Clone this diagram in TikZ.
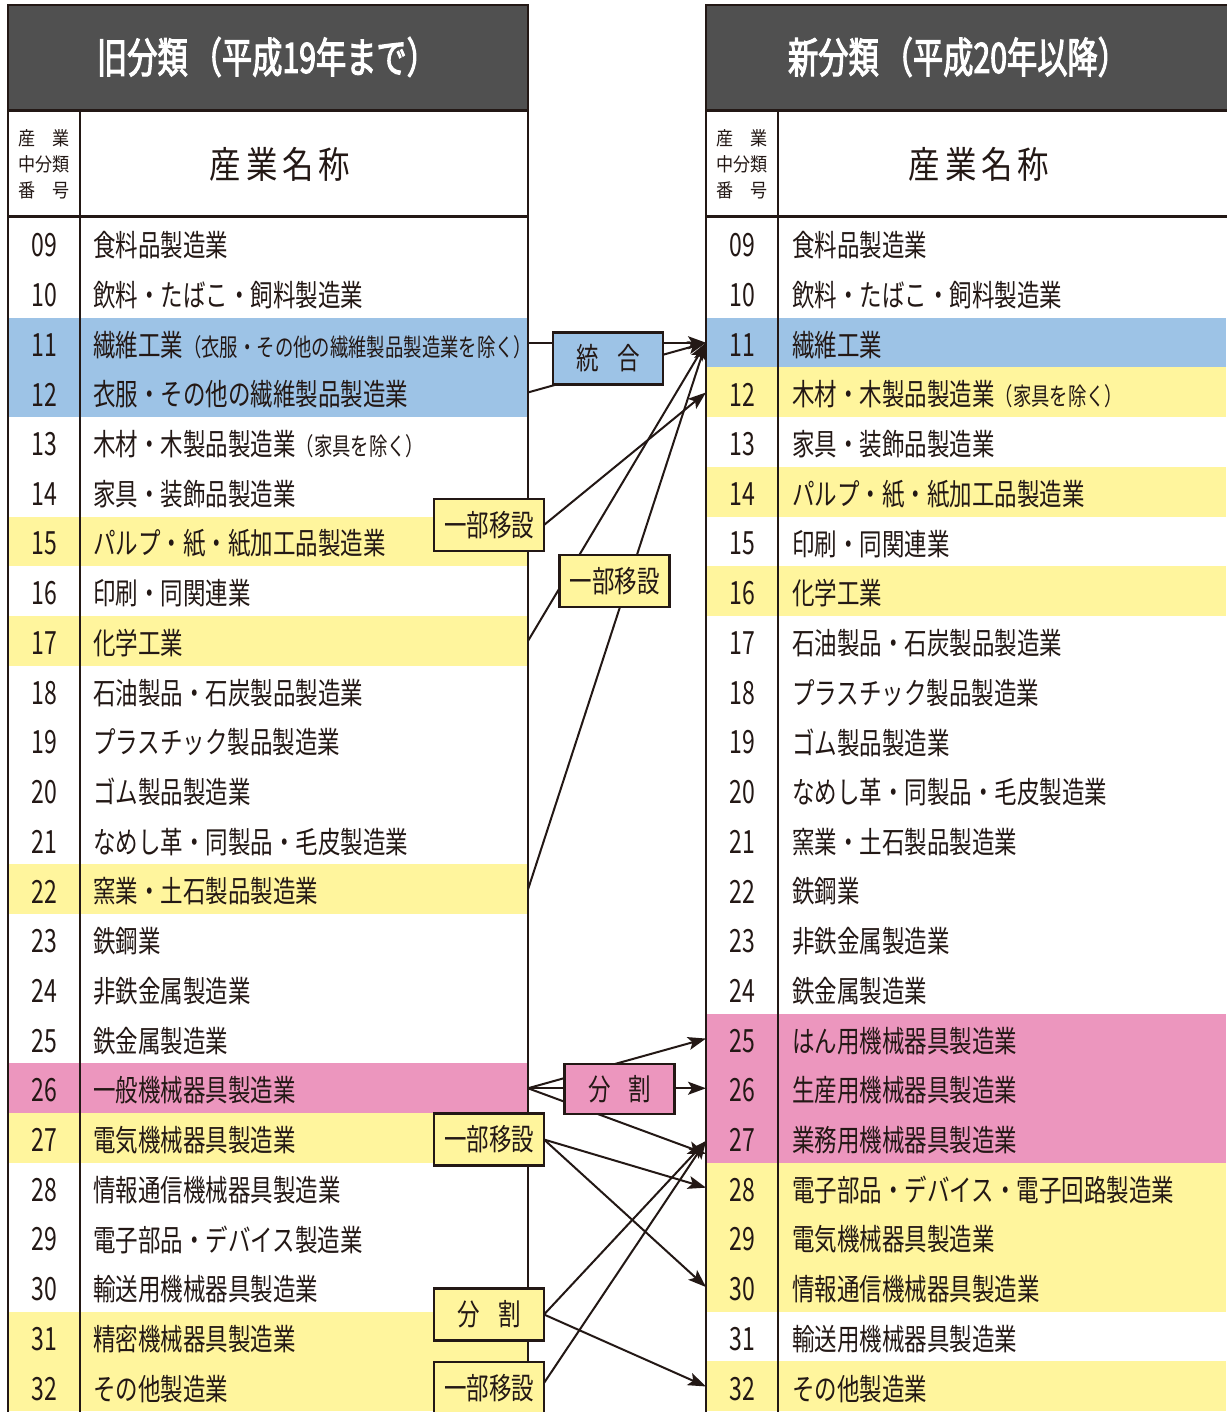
\documentclass[tikz,border=0pt]{standalone}
\usepackage{fontspec}
\setmainfont{Noto Sans CJK JP}
\newfontfamily\condf{Noto Sans CJK JP}[FakeStretch=0.75]
\newfontfamily\numff{Noto Sans CJK JP}[FakeStretch=0.72]
\newfontfamily\subf{Noto Sans CJK JP}[FakeStretch=0.85]
\newfontfamily\tinyf{Noto Sans CJK JP}[FakeStretch=0.9]
\newfontfamily\headf{Noto Sans CJK JP}[FakeStretch=0.72,FakeBold=2.5]
\usetikzlibrary{arrows.meta}
\definecolor{ink}{HTML}{231815}
\definecolor{hdr}{HTML}{505050}
\definecolor{cblue}{HTML}{9DC3E6}
\definecolor{cyel}{HTML}{FFF59D}
\definecolor{cpink}{HTML}{EC96BE}
\newcommand{\rowfont}{\condf\fontsize{30}{36}\selectfont}
\newcommand{\smfont}{\condf\fontsize{24.5}{28}\selectfont}
\newcommand{\numfont}{\numff\fontsize{32}{36}\selectfont}
\newcommand{\sm}[1]{{\smfont #1}}
\pgfdeclarelayer{top}
\pgfsetlayers{main,top}
\begin{document}
\begin{tikzpicture}[x=1pt,y=-1pt,
  band/.style={draw=none,minimum width=520pt,minimum height=50pt,inner sep=0pt,outer sep=0pt},
  rowtxt/.style={anchor=west,inner sep=0pt,font=\rowfont,text=ink},
  numtxt/.style={inner sep=0pt,font=\numfont,text=ink},
  tline/.style={line width=2pt,draw=ink},
  hline/.style={line width=3pt,draw=ink},
  conn/.style={line width=2pt,draw=ink,-{Stealth[length=18pt,width=13pt,inset=4pt]}},
  lbl/.style={draw=ink,line width=2.5pt,minimum width=110pt,minimum height=52pt,inner sep=0pt,outer sep=0pt,font=\rowfont,text=ink},
  headtxt/.style={font=\headf\fontsize{42}{44}\selectfont,text=white,inner sep=0pt},
  subtxt/.style={font=\subf\fontsize{37}{40}\selectfont,text=ink,inner sep=0pt},
  tinytxt/.style={font=\tinyf\fontsize{19}{26}\selectfont,text=ink,align=center,inner sep=0pt}
]
\useasboundingbox (0,0) rectangle (1226,1412);
\fill[white] (0,0) rectangle (1226,1412);

% ---------- old table rows ----------
\foreach \i/\num/\name/\col in {
 0/09/食料品製造業/white,
 1/10/飲料・たばこ・飼料製造業/white,
 2/11/{繊維工業\sm{（衣服・その他の繊維製品製造業を除く）}}/cblue,
 3/12/衣服・その他の繊維製品製造業/cblue,
 4/13/{木材・木製品製造業\sm{（家具を除く）}}/white,
 5/14/家具・装飾品製造業/white,
 6/15/パルプ・紙・紙加工品製造業/cyel,
 7/16/印刷・同関連業/white,
 8/17/化学工業/cyel,
 9/18/石油製品・石炭製品製造業/white,
 10/19/プラスチック製品製造業/white,
 11/20/ゴム製品製造業/white,
 12/21/なめし革・同製品・毛皮製造業/white,
 13/22/窯業・土石製品製造業/cyel,
 14/23/鉄鋼業/white,
 15/24/非鉄金属製造業/white,
 16/25/鉄金属製造業/white,
 17/26/一般機械器具製造業/cpink,
 18/27/電気機械器具製造業/cyel,
 19/28/情報通信機械器具製造業/white,
 20/29/電子部品・デバイス製造業/white,
 21/30/輸送用機械器具製造業/white,
 22/31/精密機械器具製造業/cyel,
 23/32/その他製造業/cyel}{
  \node[band,fill=\col] (o\num) at (268,{243.35+49.7*\i}) {};
  \node[numtxt] (on\num) at (44,{245.5+49.7*\i}) {\num};
  \node[rowtxt] (ot\num) at (93,{245.5+49.7*\i}) {\name};
}

% ---------- new table rows ----------
\foreach \i/\num/\name/\col in {
 0/09/食料品製造業/white,
 1/10/飲料・たばこ・飼料製造業/white,
 2/11/繊維工業/cblue,
 3/12/{木材・木製品製造業\sm{（家具を除く）}}/cyel,
 4/13/家具・装飾品製造業/white,
 5/14/パルプ・紙・紙加工品製造業/cyel,
 6/15/印刷・同関連業/white,
 7/16/化学工業/cyel,
 8/17/石油製品・石炭製品製造業/white,
 9/18/プラスチック製品製造業/white,
 10/19/ゴム製品製造業/white,
 11/20/なめし革・同製品・毛皮製造業/white,
 12/21/窯業・土石製品製造業/white,
 13/22/鉄鋼業/white,
 14/23/非鉄金属製造業/white,
 15/24/鉄金属製造業/white,
 16/25/はん用機械器具製造業/cpink,
 17/26/生産用機械器具製造業/cpink,
 18/27/業務用機械器具製造業/cpink,
 19/28/電子部品・デバイス・電子回路製造業/cyel,
 20/29/電気機械器具製造業/cyel,
 21/30/情報通信機械器具製造業/cyel,
 22/31/輸送用機械器具製造業/white,
 23/32/その他製造業/cyel}{
  \node[band,fill=\col] (n\num) at (966,{243.35+49.7*\i}) {};
  \node[numtxt] (nn\num) at (742,{245.5+49.7*\i}) {\num};
  \node[rowtxt] (nt\num) at (792,{245.5+49.7*\i}) {\name};
}

% ---------- old table frame ----------
\fill[hdr] (8,5) rectangle (528,111);
\draw[tline] (8,1416) -- (8,5) -- (528,5) -- (528,1416);
\draw[hline] (8,111) -- (528,111);
\draw[hline] (8,217) -- (528,217);
\draw[tline] (80,111) -- (80,1416);
\node[headtxt] (hL) at (267,57) {旧分類\hspace{4pt}（平成19年まで）};
\node[subtxt] (sL) at (280,164) {産\hspace{5pt}業\hspace{5pt}名\hspace{5pt}称};
\node[tinytxt] (cL) at (44,164) {産　業\\中分類\\番　号};

% ---------- new table frame ----------
\fill[hdr] (706,5) rectangle (1230,111);
\draw[tline] (706,1416) -- (706,5) -- (1230,5);
\draw[hline] (706,111) -- (1230,111);
\draw[hline] (706,217) -- (1230,217);
\draw[tline] (778,111) -- (778,1416);
\node[headtxt] (hR) at (958,57) {新分類\hspace{4pt}（平成20年以降）};
\node[subtxt] (sR) at (979,164) {産\hspace{5pt}業\hspace{5pt}名\hspace{5pt}称};
\node[tinytxt] (cR) at (742,164) {産　業\\中分類\\番　号};

% ---------- label boxes (top layer) ----------
\begin{pgfonlayer}{top}
\node[lbl,fill=cblue] (bTogo) at (608,358.5) {統\hspace{18pt}合};
\node[lbl,fill=cyel] (bIsetsuA) at (489,525) {一部移設};
\node[lbl,fill=cyel] (bIsetsuB) at (614.5,581) {一部移設};
\node[lbl,fill=cpink,minimum height=50pt] (bBunP) at (619.5,1089) {分\hspace{18pt}割};
\node[lbl,fill=cyel] (bIsetsuC) at (489,1139.5) {一部移設};
\node[lbl,fill=cyel] (bBunY) at (489,1314.5) {分\hspace{18pt}割};
\node[lbl,fill=cyel] (bIsetsuD) at (489,1388) {一部移設};
\end{pgfonlayer}

% ---------- connectors ----------
\draw[conn] (o11.east) -- (n11.west);
\draw[conn] (o12.east) -- (n11.west);
\draw[conn] (bIsetsuA.east) -- (n12.west);
\draw[conn] (o17.east) -- (n11.west);
\draw[conn] (o22.east) -- (n11.west);
\draw[conn] (o26.east) -- (n25.west);
\draw[conn] (o26.east) -- (n26.west);
\draw[conn] (o26.east) -- ([yshift=-16pt]n27.west);
\draw[conn] (bIsetsuC.east) -- (n28.west);
\draw[conn] (bIsetsuC.east) -- (n30.west);
\draw[conn] (bBunY.east) -- ([yshift=-3pt]n27.west);
\draw[conn] (bBunY.east) -- (n32.west);
\draw[conn] ([yshift=5pt]bIsetsuD.east) -- ([yshift=-3pt]n27.west);
\end{tikzpicture}
\end{document}
